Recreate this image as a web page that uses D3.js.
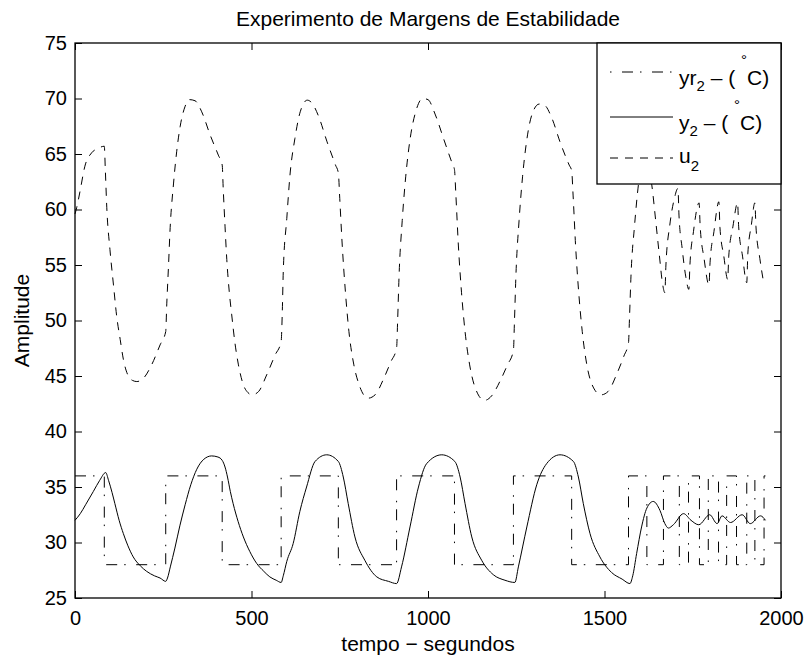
<!DOCTYPE html>
<html>
<head>
<meta charset="utf-8">
<script src="https://cdn.jsdelivr.net/npm/d3@7"></script>
<style>
  body { margin: 0; background: #fff; }
  svg { display: block; font-family: "Liberation Sans", Arial, sans-serif; }
  .tick text { font-size: 20px; fill: #000; }
</style>
</head>
<body>
<div id="chart"></div>
<script>
// Experimento de Margens de Estabilidade - yr2, y2, u2

const xTicks = [0, 500, 1000, 1500, 2000];
const yTicks = [25, 30, 35, 40, 45, 50, 55, 60, 65, 70, 75];

// referencia (onda quadrada): instantes de troca e nivel a partir de cada instante
const yrTimes = [0, 83, 257, 417, 584, 746, 911, 1075, 1242, 1407, 1568, 1620, 1667, 1712, 1738, 1769, 1794, 1823, 1846, 1874, 1903, 1926, 1952, 1956];
const yrLevels = [36, 28, 36, 28, 36, 28, 36, 28, 36, 28, 36, 28, 36, 28, 36, 28, 36, 28, 36, 28, 36, 28, 36, 36];

// saida y2 (tempo, valor)
const yPoints = [
  [0, 32.0], [15, 32.6], [30, 33.4], [52, 34.6], [70, 35.6], [87, 36.3], [95, 35.6], [105, 34.5],
  [113, 33.5], [125, 32.0], [137, 30.8], [150, 29.7], [165, 28.7], [185, 27.9], [203, 27.4],
  [225, 27.0], [241, 26.8], [257, 26.5], [262, 26.8], [270, 27.8], [283, 29.5], [297, 31.5],
  [312, 33.4], [328, 35.2], [345, 36.6], [365, 37.5], [387, 37.8], [405, 37.7], [417, 37.4],
  [425, 36.8], [432, 35.9], [440, 34.6], [448, 33.5], [462, 31.9], [477, 30.5], [495, 29.2],
  [515, 28.1], [535, 27.4], [552, 26.9], [570, 26.6], [584, 26.4],
  [590, 27.0], [600, 28.3], [618, 29.9], [637, 32.8], [656, 35.0], [680, 37.3], [713, 37.9],
  [746, 37.3], [760, 35.9], [774, 33.5], [793, 30.5], [821, 28.4], [855, 26.9], [888, 26.5], [911, 26.3],
  [925, 27.8], [949, 31.4], [973, 35.0], [996, 37.1], [1039, 37.9], [1076, 37.3], [1091, 35.9],
  [1105, 33.5], [1124, 30.5], [1152, 28.4], [1185, 27.1], [1218, 26.6], [1246, 26.4],
  [1256, 27.8], [1280, 31.4], [1308, 35.2], [1336, 37.1], [1374, 37.9], [1412, 37.3], [1426, 35.9],
  [1440, 33.5], [1459, 30.8], [1487, 28.7], [1520, 27.3], [1550, 26.7], [1572, 26.3],
  [1580, 27.0], [1591, 29.0], [1605, 31.4], [1620, 33.1], [1638, 33.7], [1657, 32.9], [1671, 31.7],
  [1681, 31.3], [1695, 31.6], [1724, 32.6], [1745, 32.0], [1767, 31.6], [1798, 32.5], [1819, 31.7],
  [1833, 32.4], [1857, 31.8], [1890, 32.5], [1913, 31.7], [1942, 32.4], [1956, 32.0]
];

// sinal de controle u2 (tempo, valor)
const uPoints = [
  [0, 59.6], [5, 60.2], [14, 61.6], [28, 63.9], [47, 65.1], [65, 65.5], [83, 65.7], [86, 63.5],
  [90, 60.2], [99, 56.4], [109, 53.2], [118, 50.4], [128, 48.3], [137, 46.5], [151, 45.0],
  [163, 44.6], [175, 44.5], [194, 44.8], [217, 46.0], [241, 47.8], [257, 49.0],
  [260, 51.5], [265, 55.0], [269, 58.0], [279, 62.3], [288, 65.2], [298, 67.5], [312, 69.3],
  [324, 69.9], [340, 69.8], [359, 68.8], [383, 66.7], [406, 64.9], [417, 64.0], [420, 61.8],
  [425, 58.5], [430, 55.5], [437, 52.6], [444, 50.5], [453, 48.0], [463, 46.0], [477, 44.2],
  [490, 43.5], [501, 43.3], [520, 43.6], [543, 45.1], [567, 46.9], [584, 48.1],
  [587, 50.5], [590, 54.4], [600, 59.2], [609, 63.1], [623, 66.4], [638, 68.8], [658, 69.85],
  [671, 69.6], [690, 68.4], [714, 66.1], [738, 64.0], [746, 63.3], [750, 61.0], [757, 56.8],
  [766, 52.6], [776, 49.0], [790, 46.0], [805, 44.2], [830, 43.0], [850, 43.3], [875, 44.8],
  [895, 46.3], [911, 47.5],
  [914, 50.0], [918, 54.0], [927, 59.0], [937, 63.0], [950, 66.5], [966, 68.9], [985, 70.0],
  [1000, 69.9], [1020, 68.6], [1045, 66.3], [1068, 64.2], [1075, 63.6], [1079, 61.3], [1086, 56.8],
  [1095, 52.5], [1105, 49.0], [1118, 46.0], [1133, 44.0], [1160, 42.8], [1180, 43.2], [1205, 44.6],
  [1225, 46.0], [1242, 47.3],
  [1245, 50.0], [1249, 54.0], [1258, 59.0], [1268, 63.0], [1280, 66.3], [1296, 68.7], [1315, 69.5],
  [1330, 69.4], [1350, 68.3], [1375, 66.0], [1400, 64.0], [1407, 63.5], [1411, 61.3], [1418, 56.8],
  [1427, 52.5], [1437, 49.0], [1450, 46.0], [1465, 44.2], [1490, 43.3], [1510, 43.6], [1535, 45.2],
  [1555, 46.8], [1568, 48.0],
  [1571, 50.4], [1575, 54.0], [1585, 58.5], [1596, 62.2], [1608, 64.5], [1620, 66.0], [1623, 64.0],
  [1634, 62.2], [1645, 59.0], [1655, 56.0], [1665, 53.2], [1671, 52.5], [1674, 55.0], [1685, 58.6],
  [1698, 61.0], [1708, 61.9], [1711, 59.5], [1720, 56.5], [1730, 54.0], [1739, 52.8], [1742, 55.0],
  [1752, 58.0], [1768, 60.6], [1771, 58.5], [1782, 55.6], [1796, 53.2], [1799, 55.2], [1810, 58.0],
  [1824, 60.7], [1827, 58.4], [1838, 55.8], [1849, 53.7], [1852, 55.8], [1864, 58.5], [1877, 60.6],
  [1880, 58.5], [1891, 55.8], [1903, 53.4], [1906, 56.0], [1916, 58.6], [1926, 60.6], [1929, 58.5],
  [1940, 55.6], [1952, 53.2]
];

const legendLabels = ['yr', 'y', 'u'];

const width = 808;
const height = 661;
const margin = { top: 43, right: 27, bottom: 63, left: 75 };
const innerW = width - margin.left - margin.right;
const innerH = height - margin.top - margin.bottom;

const svg = d3.select('#chart').append('svg')
  .attr('width', width)
  .attr('height', height);

const x = d3.scaleLinear().domain([0, 2000]).range([margin.left, margin.left + innerW]);
const y = d3.scaleLinear().domain([25, 75]).range([margin.top + innerH, margin.top]);

// eixos com marcas para dentro (estilo MATLAB)
svg.append('g')
  .attr('transform', `translate(0,${margin.top + innerH})`)
  .call(d3.axisBottom(x).tickValues(xTicks).tickSizeInner(-7).tickSizeOuter(0).tickPadding(13).tickFormat(d3.format('d')));

svg.append('g')
  .attr('transform', `translate(${margin.left},0)`)
  .call(d3.axisLeft(y).tickValues(yTicks).tickSizeInner(-7).tickSizeOuter(0).tickPadding(8).tickFormat(d3.format('d')));

svg.append('g')
  .attr('transform', `translate(0,${margin.top})`)
  .call(d3.axisTop(x).tickValues(xTicks).tickSizeInner(-7).tickSizeOuter(0).tickFormat(''));

svg.append('g')
  .attr('transform', `translate(${margin.left + innerW},0)`)
  .call(d3.axisRight(y).tickValues(yTicks).tickSizeInner(-7).tickSizeOuter(0).tickFormat(''));

svg.selectAll('.domain').remove();
svg.selectAll('.tick line').attr('stroke', '#000');

const plot = svg.append('g');

const yrData = yrTimes.map((t, i) => [t, yrLevels[i]]);

const stepLine = d3.line().x(d => x(d[0])).y(d => y(d[1])).curve(d3.curveStepAfter);
const smoothLine = d3.line().x(d => x(d[0])).y(d => y(d[1])).curve(d3.curveMonotoneX);

const styles = {
  yr: { dash: '11,7,1.5,10.5', offset: 18 },
  y: { dash: null, offset: 0 },
  u: { dash: '8,7', offset: 0 }
};

plot.append('path')
  .datum(yrData)
  .attr('d', stepLine)
  .attr('fill', 'none')
  .attr('stroke', '#000')
  .attr('stroke-width', 1)
  .attr('stroke-dasharray', styles.yr.dash);

plot.append('path')
  .datum(yPoints)
  .attr('d', smoothLine)
  .attr('fill', 'none')
  .attr('stroke', '#000')
  .attr('stroke-width', 1);

plot.append('path')
  .datum(uPoints)
  .attr('d', smoothLine)
  .attr('fill', 'none')
  .attr('stroke', '#000')
  .attr('stroke-width', 1)
  .attr('stroke-dasharray', styles.u.dash);

// moldura
svg.append('rect')
  .attr('x', margin.left)
  .attr('y', margin.top)
  .attr('width', innerW)
  .attr('height', innerH)
  .attr('fill', 'none')
  .attr('stroke', '#000')
  .attr('stroke-width', 1.3);

// legenda
const lg = svg.append('g').attr('transform', `translate(597,${margin.top})`);
lg.append('rect')
  .attr('width', margin.left + innerW - 597)
  .attr('height', 141)
  .attr('fill', '#fff')
  .attr('stroke', '#000')
  .attr('stroke-width', 1.3);

const rows = [29, 74, 115];
const baselines = [42, 87, 120];
legendLabels.forEach((name, i) => {
  lg.append('line')
    .attr('x1', 13).attr('x2', 76)
    .attr('y1', rows[i]).attr('y2', rows[i])
    .attr('stroke', '#000')
    .attr('stroke-width', 1)
    .attr('stroke-dasharray', styles[name].dash)
    .attr('stroke-dashoffset', styles[name].offset);

  const t = lg.append('text')
    .attr('x', 82)
    .attr('y', baselines[i])
    .attr('font-size', 21);
  t.append('tspan').text(name);
  t.append('tspan').attr('dy', name === 'u' ? 8 : 6).attr('font-size', 15).text('2');
  if (name !== 'u') {
    t.append('tspan').attr('dy', -6).text(' \u2013 ( ');
    t.append('tspan').attr('dy', -20).attr('font-size', 15).text('\u00b0');
    t.append('tspan').attr('dy', 20).text('C)');
  }
});

// titulo e rotulos
svg.append('text')
  .attr('x', margin.left + innerW / 2)
  .attr('y', 26)
  .attr('text-anchor', 'middle')
  .attr('font-size', 21)
  .text('Experimento de Margens de Estabilidade');

svg.append('text')
  .attr('x', margin.left + innerW / 2)
  .attr('y', 651)
  .attr('text-anchor', 'middle')
  .attr('font-size', 21)
  .text('tempo \u2212 segundos');

svg.append('text')
  .attr('transform', `translate(29,${margin.top + innerH / 2}) rotate(-90)`)
  .attr('text-anchor', 'middle')
  .attr('font-size', 21)
  .text('Amplitude');
</script>
</body>
</html>
